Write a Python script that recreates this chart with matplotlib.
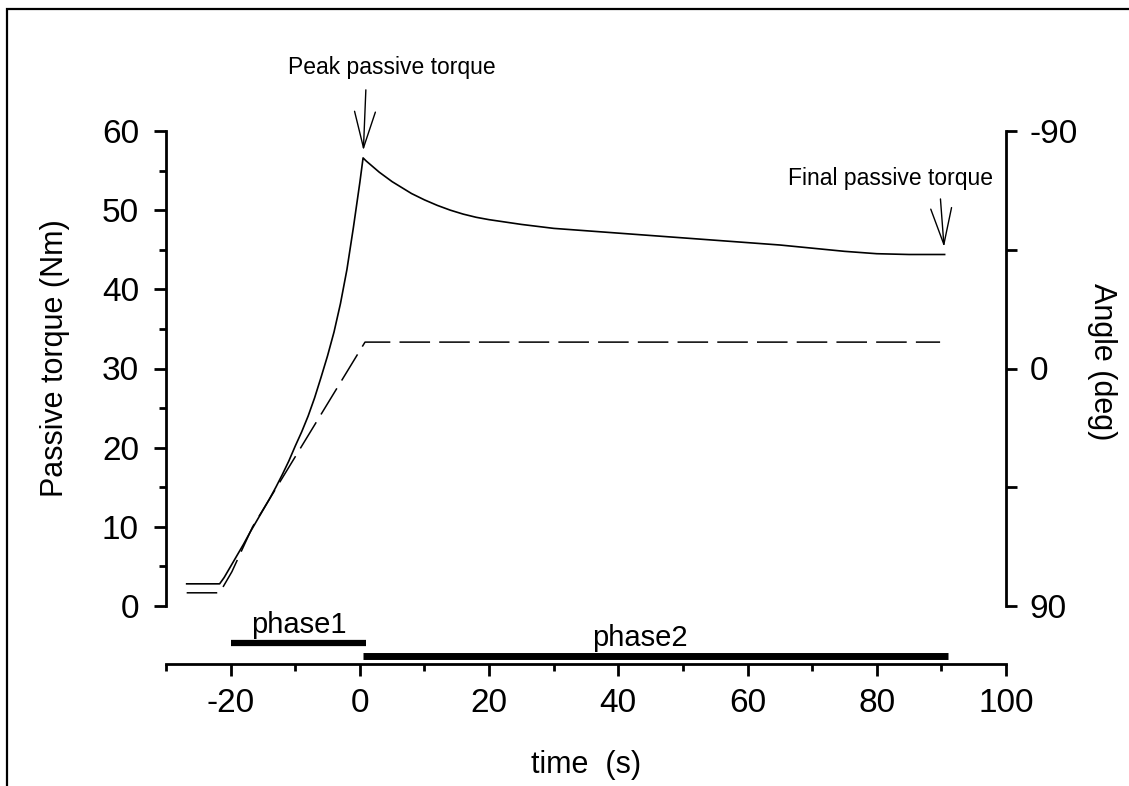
import matplotlib
matplotlib.use("Agg")
import matplotlib.pyplot as plt
from matplotlib.ticker import FixedLocator
from matplotlib.patches import Rectangle

plt.rcParams["font.family"] = ["Liberation Sans", "DejaVu Sans"]

# Passive torque trace (Nm) vs time (s)
torque_time = [-26.8, -21.7, -21.0, -20.0, -19.0, -18.0, -17.0, -16.0, -15.0,
               -14.0, -13.0, -12.0, -11.0, -10.0, -9.0, -8.0, -7.0, -6.0,
               -5.0, -4.0, -3.0, -2.0, -1.0, 0.0, 0.5,
               1.0, 2.0, 3.0, 4.0, 5.0, 6.0, 8.0, 10.0, 12.0, 14.0, 16.0,
               18.0, 20.0, 25.0, 30.0, 35.0, 40.0, 45.0, 50.0, 55.0, 60.0,
               65.0, 70.0, 75.0, 80.0, 85.0, 90.5]
torque = [2.8, 2.8, 3.6, 5.0, 6.4, 7.8, 9.3, 10.7, 12.1,
          13.5, 15.0, 16.6, 18.3, 20.2, 22.0, 24.0, 26.3, 28.9,
          31.6, 34.6, 38.2, 42.5, 47.8, 53.5, 56.6,
          56.2, 55.5, 54.8, 54.2, 53.6, 53.1, 52.1, 51.3, 50.6, 50.0, 49.5,
          49.1, 48.8, 48.2, 47.7, 47.4, 47.1, 46.8, 46.5, 46.2, 45.9,
          45.6, 45.2, 44.8, 44.5, 44.4, 44.4]

# Joint angle trace (deg) vs time (s)
angle_time = [-26.8, -21.7, -19.8, -16.6, 0.8, 89.8]
angle = [85, 85, 77, 60, -10, -10]

# Protocol phases: label, start and end (s)
phase_labels = ["phase1", "phase2"]
phase_start = [-20.0, 0.5]
phase_end = [1.0, 91.0]

x_ticks = [-20, 0, 20, 40, 60, 80, 100]
torque_ticks = [0, 10, 20, 30, 40, 50, 60]
angle_ticks = [-90, -45, 0, 45, 90]
angle_tick_labels = ["-90", "", "0", "", "90"]

W, H = 1129, 786
fig = plt.figure(figsize=(W / 100, H / 100), dpi=100)

# axes box in pixels: x 166..1006, y 131..664 (from top)
ax = fig.add_axes([166 / W, 1 - 664 / H, 840 / W, 533 / H])
ax.set_xlim(-30, 100)
ymin = -(664 - 606) / ((606 - 131) / 60.0)
ax.set_ylim(ymin, 60)

ax.plot(torque_time, torque, color="black", lw=1.2, solid_joinstyle="round")

for sp in ["top", "right"]:
    ax.spines[sp].set_visible(False)
ax.spines["left"].set_bounds(0, 60)
for sp in ["left", "bottom"]:
    ax.spines[sp].set_linewidth(2.0)

ax.xaxis.set_major_locator(FixedLocator(x_ticks))
ax.xaxis.set_minor_locator(FixedLocator([-30, -10, 10, 30, 50, 70, 90]))
ax.yaxis.set_major_locator(FixedLocator(torque_ticks))
ax.yaxis.set_minor_locator(FixedLocator([5, 15, 25, 35, 45, 55]))
ax.set_xticklabels([str(v) for v in x_ticks])
ax.set_yticklabels([str(v) for v in torque_ticks])
ax.tick_params(axis="x", which="major", direction="out", length=8.5, width=2.0,
               labelsize=24, pad=9)
ax.tick_params(axis="x", which="minor", direction="out", length=5, width=2.0)
ax.tick_params(axis="y", which="major", direction="out", length=8.5, width=2.0,
               labelsize=24, pad=11)
ax.tick_params(axis="y", which="minor", direction="out", length=5, width=2.0)

ax.set_xlabel("time  (s)", fontsize=22)
ax.xaxis.label.set_verticalalignment("center")
ax.xaxis.set_label_coords(0.5, (664 - 765) / 533)
ax.set_ylabel("Passive torque (Nm)", fontsize=22, va="center", ha="center",
              rotation=90, rotation_mode="default")
ax.yaxis.set_label_coords((55 - 166) / 840, (664 - 358) / 533)

# angle axis on the right, inverted: -90 at top, 90 at bottom
ax2 = ax.twinx()
ax2.set_ylim(90 - 3 * ymin, -90)
ax2.plot(angle_time, angle, color="black", lw=1.1, dashes=(20, 6))
for sp in ["top", "left", "bottom"]:
    ax2.spines[sp].set_visible(False)
ax2.spines["right"].set_bounds(-90, 90)
ax2.spines["right"].set_linewidth(2.0)
ax2.yaxis.set_major_locator(FixedLocator(angle_ticks))
ax2.set_yticklabels(angle_tick_labels)
ax2.tick_params(axis="y", direction="out", length=8, width=2.0, labelsize=24, pad=9)
ax2.set_ylabel("Angle (deg)", fontsize=22, rotation=270, va="center", ha="center",
               rotation_mode="default")
ax2.yaxis.set_label_coords((1102 - 166) / 840, (664 - 362) / 533)

# phase bars below the traces
bar_levels = [-(643.5 - 606) / 7.917, -(656 - 606) / 7.917]
bar_widths = [4.5, 5.0]
label_x = [-9.5, 43.3]
for lab, s, e, yv, bw, lx in zip(phase_labels, phase_start, phase_end, bar_levels,
                                 bar_widths, label_x):
    ax.plot([s, e], [yv, yv], color="black", lw=bw, solid_capstyle="butt", clip_on=False)
    ax.annotate(lab, xy=(lx, yv), xytext=(0, 3), textcoords="offset points",
                ha="center", va="bottom", fontsize=21, annotation_clip=False)

# markers for peak and final torque
i_peak = max(range(len(torque)), key=lambda i: torque[i])
peak = (torque_time[i_peak], torque[i_peak])
final = (torque_time[-1], torque[-1])
arrow = dict(arrowstyle="->,head_length=2.6,head_width=0.75", color="black", lw=1.0,
             shrinkA=0, shrinkB=5.5, mutation_scale=10)
ax.annotate("", xy=peak, xytext=(2, 49), textcoords="offset points", arrowprops=arrow)
ax.annotate("Peak passive torque", xy=peak, xytext=(21, 65), textcoords="offset points",
            ha="center", va="center", fontsize=16.5)
ax.annotate("", xy=final, xytext=(-3, 40), textcoords="offset points", arrowprops=arrow)
ax.annotate("Final passive torque", xy=final, xytext=(-39, 55), textcoords="offset points",
            ha="center", va="center", fontsize=16.5)

# outer frame line (left and top edges)
fig.patches.append(Rectangle((6.5 / W, -0.2), 1.5, 1.2 - 9 / H, transform=fig.transFigure,
                             fill=False, edgecolor="black", lw=1.6))

fig.savefig("out.png", dpi=100)
